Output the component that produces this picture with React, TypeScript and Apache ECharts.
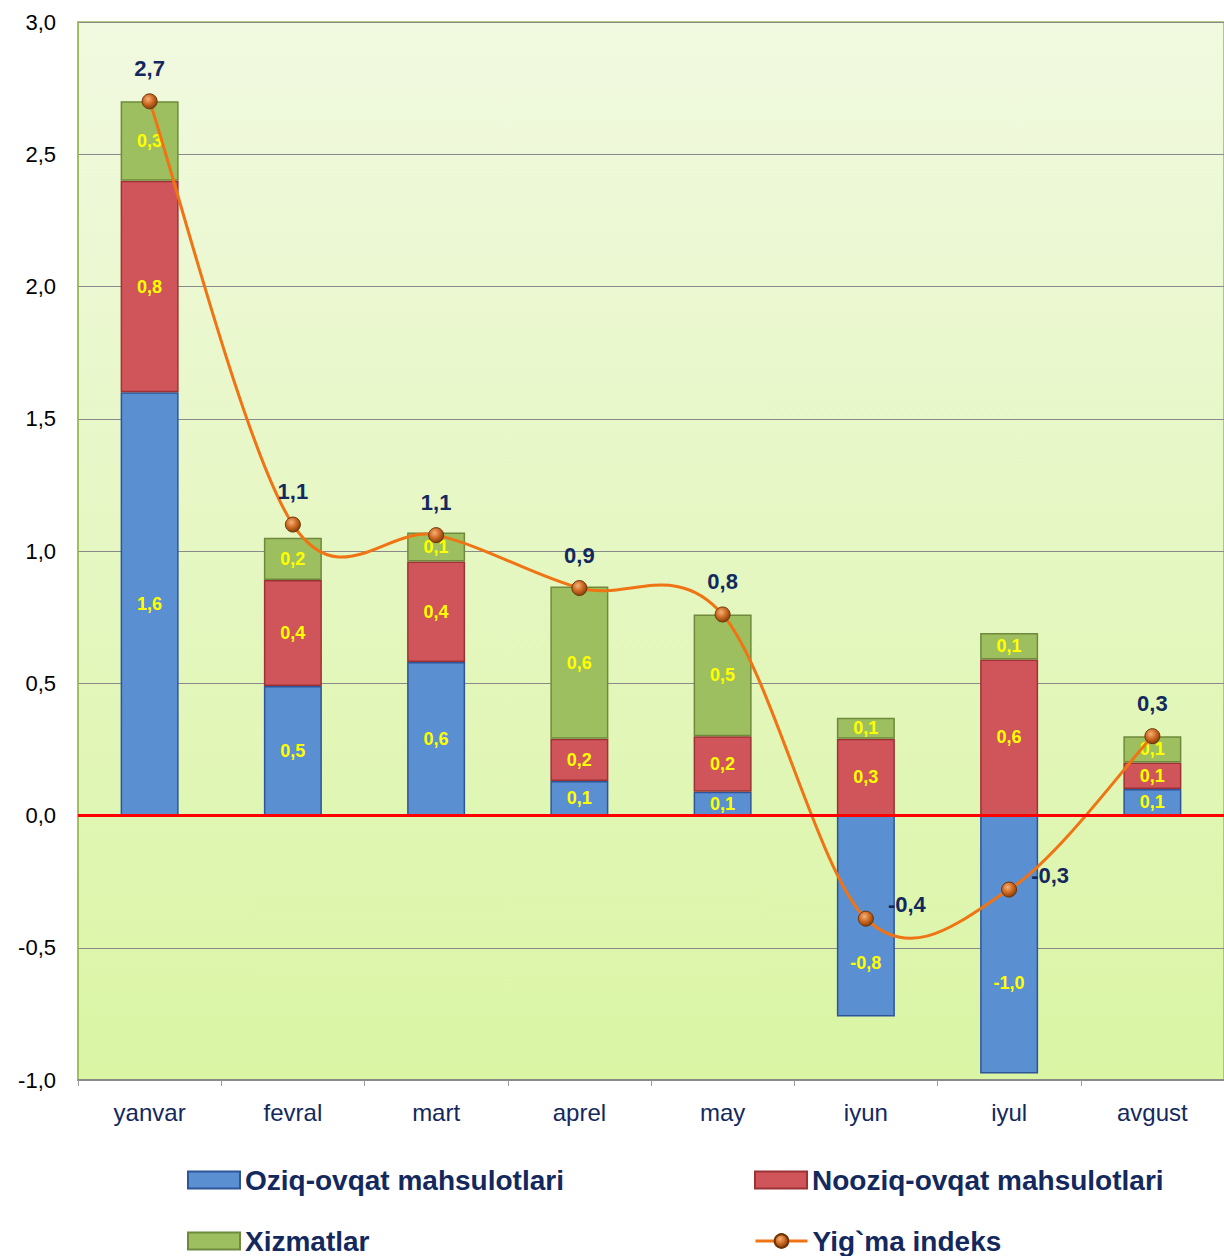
import React, { useEffect, useRef } from "react";
import * as echarts from "echarts";

const categories = ["yanvar", "fevral", "mart", "aprel", "may", "iyun", "iyul", "avgust"];
const oziqOvqat = [1.6, 0.49, 0.58, 0.13, 0.09, -0.76, -0.975, 0.1];
const noozigOvqat = [0.8, 0.4, 0.38, 0.16, 0.21, 0.29, 0.59, 0.1];
const xizmatlar = [0.3, 0.16, 0.11, 0.576, 0.46, 0.08, 0.1, 0.1];
const yigmaIndeks = [2.7, 1.1, 1.06, 0.86, 0.76, -0.39, -0.28, 0.3];
const seriesNames = ["Oziq-ovqat mahsulotlari", "Nooziq-ovqat mahsulotlari", "Xizmatlar", "Yig`ma indeks"];

const fmt = (v: number) => v.toFixed(1).replace(".", ",");
const FONT = "Liberation Sans, Arial, sans-serif";
const NAVY = "#13295e";
const ORANGE = "#f07414";

export default function App() {
  const ref = useRef<HTMLDivElement>(null);
  useEffect(() => {
    document.body.style.margin = "0";
    const chart = echarts.init(ref.current!, null, { renderer: "svg" });
    const barLabel = {
      show: true,
      position: "inside",
      color: "#ffff00",
      fontWeight: "bold",
      fontSize: 18,
      fontFamily: FONT,
      formatter: (p: any) => fmt(p.value),
    };
    const mkBar = (name: string, data: any[], color: string, border: string) => ({
      name,
      type: "bar",
      stack: "total",
      barWidth: 58,
      data,
      itemStyle: { color, borderColor: border, borderWidth: 1.5 },
      label: barLabel,
    });
    const legendText = { color: NAVY, fontSize: 28, fontWeight: "bold", fontFamily: FONT };
    const mkLegend = (left: number, top: number, item: any) => ({
      left,
      top,
      padding: 0,
      itemWidth: 52,
      itemHeight: 17,
      data: [item],
      textStyle: legendText,
    });
    const n = yigmaIndeks.length;
    const pt = (j: number, api: any) => {
      const k = Math.max(0, Math.min(n - 1, j));
      return api.coord([k, yigmaIndeks[k]]);
    };
    const markerFill = {
      type: "radial",
      x: 0.4,
      y: 0.35,
      r: 0.7,
      colorStops: [
        { offset: 0, color: "#f5b27a" },
        { offset: 0.5, color: "#cf6a22" },
        { offset: 1, color: "#7a3a0c" },
      ],
    };
    chart.setOption({
      animation: false,
      textStyle: { fontFamily: FONT },
      grid: {
        left: 78,
        right: 0,
        top: 22,
        bottom: 176,
        show: true,
        borderColor: "#9bbb59",
        borderWidth: 1.5,
        backgroundColor: {
          type: "linear",
          x: 0,
          y: 0,
          x2: 0,
          y2: 1,
          colorStops: [
            { offset: 0, color: "#f1f9e0" },
            { offset: 1, color: "#daf5a4" },
          ],
        },
      },
      legend: [
        mkLegend(187, 1166, { name: seriesNames[0], icon: "rect" }),
        mkLegend(187, 1227, { name: seriesNames[2], icon: "rect" }),
        mkLegend(754, 1166, { name: seriesNames[1], icon: "rect" }),
        mkLegend(754, 1227, {
          name: seriesNames[3],
          lineStyle: { color: ORANGE, width: 3, opacity: 1, type: "solid" },
        }),
      ],
      xAxis: {
        type: "category",
        data: categories,
        axisLine: { onZero: false, lineStyle: { color: "#8a8a8a", width: 2 } },
        axisTick: { show: true, length: 6, lineStyle: { color: "#9a9a9a" } },
        axisLabel: { color: NAVY, fontSize: 24, margin: 20, fontFamily: FONT },
      },
      yAxis: {
        type: "value",
        min: -1,
        max: 3,
        interval: 0.5,
        axisLine: { show: true, lineStyle: { color: "#9bbb59", width: 1.5 } },
        axisTick: { show: false },
        splitLine: { lineStyle: { color: "#8a8a8a", width: 1 } },
        axisLabel: { color: "#000", fontSize: 22, margin: 22, fontFamily: FONT, formatter: (v: number) => fmt(v) },
      },
      series: [
        mkBar(
          seriesNames[0],
          oziqOvqat.map((v, i) =>
            i === 5
              ? { value: v, label: { offset: [0, 47] } }
              : i === 6
              ? { value: v, label: { offset: [0, 39] } }
              : v
          ),
          "#5a8fd2",
          "#2f5597"
        ),
        mkBar(seriesNames[1], noozigOvqat, "#d0555a", "#9c3236"),
        mkBar(seriesNames[2], xizmatlar, "#9dbf5f", "#6f8a3c"),
        {
          name: "_curve",
          type: "custom",
          z: 4,
          silent: true,
          data: yigmaIndeks.map((v, i) => [i, v]),
          encode: { x: 0, y: 1 },
          renderItem: (params: any, api: any) => {
            const i = params.dataIndex;
            if (i >= n - 1) return { type: "group", children: [] };
            const p0 = pt(i - 1, api);
            const p1 = pt(i, api);
            const p2 = pt(i + 1, api);
            const p3 = pt(i + 2, api);
            return {
              type: "bezierCurve",
              shape: {
                x1: p1[0],
                y1: p1[1],
                cpx1: p1[0] + (p2[0] - p0[0]) / 6,
                cpy1: p1[1] + (p2[1] - p0[1]) / 6,
                cpx2: p2[0] - (p3[0] - p1[0]) / 6,
                cpy2: p2[1] - (p3[1] - p1[1]) / 6,
                x2: p2[0],
                y2: p2[1],
              },
              style: { stroke: ORANGE, lineWidth: 3, fill: "none" },
            };
          },
        },
        {
          name: seriesNames[3],
          type: "line",
          data: yigmaIndeks.map((v, i) =>
            i === 5 || i === 6
              ? { value: v, label: { position: "right", offset: [0, -14] } }
              : { value: v }
          ),
          symbol: "circle",
          symbolSize: 15,
          z: 5,
          lineStyle: { color: ORANGE, width: 3, opacity: 0 },
          itemStyle: { color: markerFill, borderColor: "#6e3408", borderWidth: 1 },
          label: {
            show: true,
            position: "top",
            distance: 14,
            color: NAVY,
            fontWeight: "bold",
            fontSize: 22,
            fontFamily: FONT,
            formatter: (p: any) => fmt(p.value),
          },
          markLine: {
            silent: true,
            symbol: "none",
            label: { show: false },
            lineStyle: { color: "#ff0000", width: 3, type: "solid", opacity: 1 },
            data: [{ yAxis: 0 }],
          },
        },
      ],
    });
    return () => chart.dispose();
  }, []);
  return <div ref={ref} style={{ width: 1224, height: 1256 }} />;
}
